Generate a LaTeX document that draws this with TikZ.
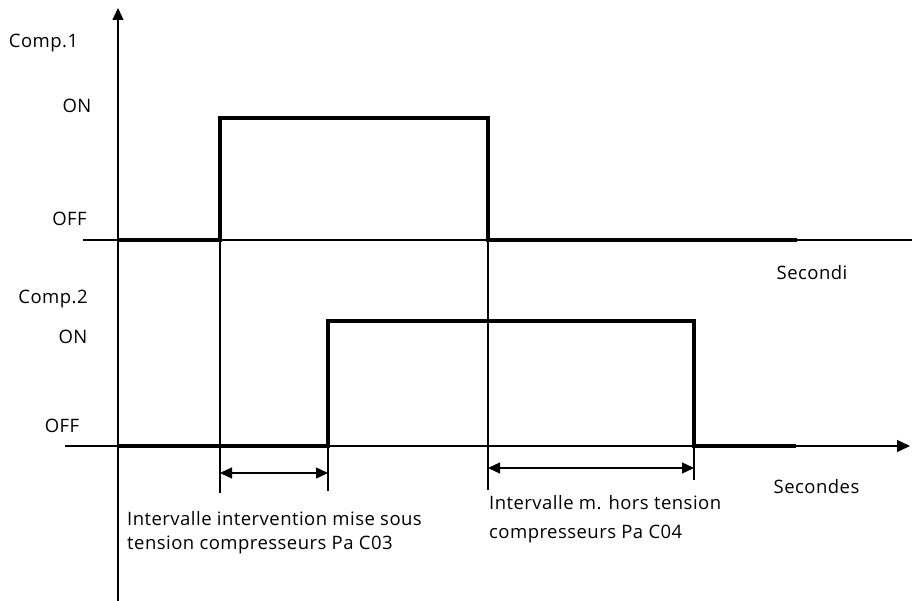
\documentclass[tikz,border=0pt]{standalone}
\usepackage{fontspec}
\setmainfont{Open Sans}[LetterSpace=2.5]
\usetikzlibrary{arrows.meta}
\begin{document}
\begin{tikzpicture}[x=1pt,y=-1pt,
  axis/.style={line width=1.3pt},
  guide/.style={line width=1.3pt},
  signal/.style={line width=4.6pt,line join=miter},
  span/.style={line width=1.3pt,{Triangle[length=12pt,width=11pt]}-{Triangle[length=12pt,width=11pt]}},
  lbl/.style={anchor=base west,inner sep=0pt,font=\fontsize{18.5}{22}\selectfont},
  tag/.style={lbl,anchor=base}]
\useasboundingbox (0,0) rectangle (912,601);

% axes
\coordinate (vbot) at (118,601);
\coordinate (vtop) at (118,8);
\coordinate (h1l) at (83,240);
\coordinate (h1r) at (912,240);
\coordinate (h2l) at (65,446);
\coordinate (h2r) at (910,446);
\draw[axis,-{Triangle[length=12pt,width=11pt]}] (vbot) -- (vtop);
\draw[axis] (h1l) -- (h1r);
\draw[axis,-{Triangle[length=13pt,width=12pt]}] (h2l) -- (h2r);

% switching instants
\coordinate (a0) at (118,240);
\coordinate (a1) at (220,240);
\coordinate (a2) at (220,118);
\coordinate (a3) at (488,118);
\coordinate (a4) at (488,240);
\coordinate (a5) at (797,240);
\coordinate (b0) at (118,446);
\coordinate (b1) at (328,446);
\coordinate (b2) at (328,321);
\coordinate (b3) at (694,321);
\coordinate (b4) at (694,446);
\coordinate (b5) at (796,446);

% guide lines below the edges
\coordinate (g1) at (220,493);
\coordinate (g2) at (328,491);
\coordinate (g3) at (488,490);
\coordinate (g4) at (694,480);
\draw[guide] (a1) -- (g1);
\draw[guide] (b1) -- (g2);
\draw[guide] (a3) -- (g3);
\draw[guide] (b4) -- (g4);

% compressor states
\draw[signal] (a0) -- (a1) -- (a2) -- (a3) -- (a4) -- (a5);
\draw[signal] (b0) -- (b1) -- (b2) -- (b3) -- (b4) -- (b5);

% delay intervals
\coordinate (s1l) at (220,473);
\coordinate (s1r) at (328,473);
\coordinate (s2l) at (488,468);
\coordinate (s2r) at (694,468);
\draw[span] (s1l) -- (s1r);
\draw[span] (s2l) -- (s2r);

% labels
\node[tag] (c1) at (43.5,48) {Comp.1};
\node[tag] (on1) at (77,113) {ON};
\node[tag] (off1) at (69.5,226) {OFF};
\node[tag] (sec1) at (812,280) {Secondi};
\node[tag] (c2) at (53,304) {Comp.2};
\node[tag] (on2) at (73,343) {ON};
\node[tag] (off2) at (62,432) {OFF};
\node[tag] (sec2) at (816.5,493) {Secondes};
\node[lbl] (t1a) at (127,525) {Intervalle intervention mise sous};
\node[lbl] (t1b) at (127,549) {tension compresseurs Pa C03};
\node[lbl] (t2a) at (489,509) {Intervalle m. hors tension};
\node[lbl] (t2b) at (489,538) {compresseurs Pa C04};
\end{tikzpicture}
\end{document}
